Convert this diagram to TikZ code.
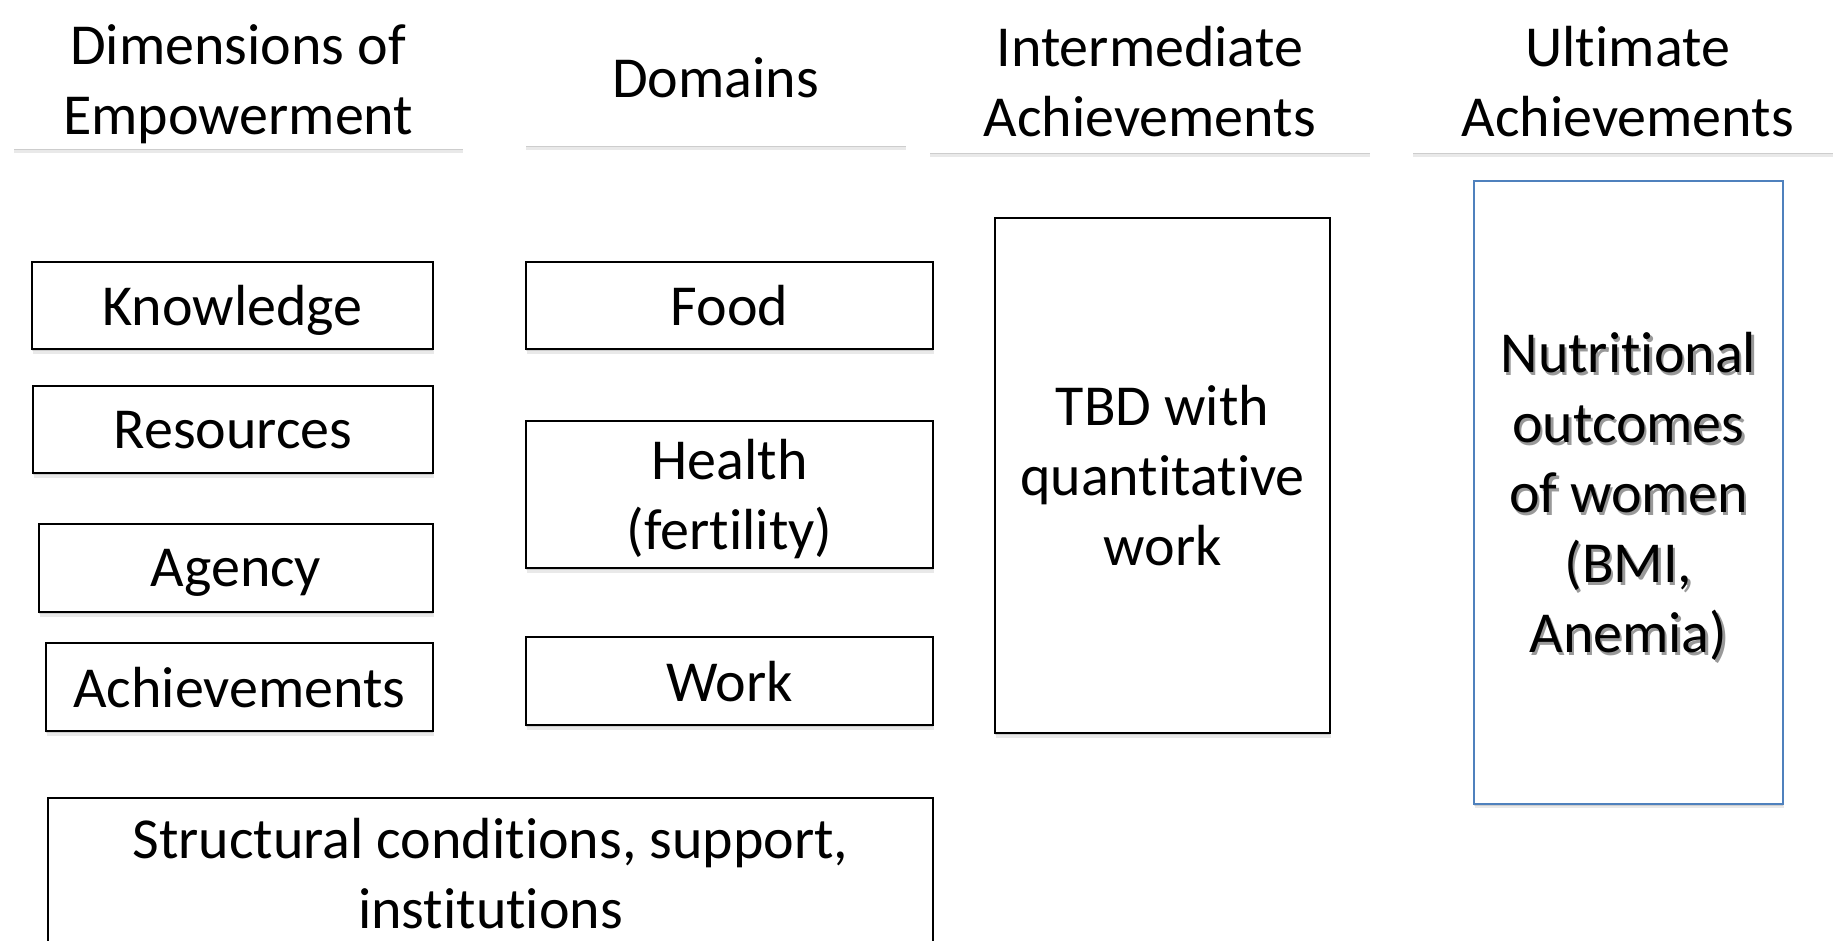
\documentclass[tikz,border=0pt]{standalone}
\usepackage{fontspec}
\setmainfont{Carlito}[Ligatures=NoCommon]
\usepackage{xcolor}
\definecolor{outcomeBlue}{RGB}{79,129,189}
\usetikzlibrary{positioning,shadows}

\newcommand{\boxfont}{\fontsize{16.5pt}{19.9pt}\selectfont}
% grey copy slightly offset behind the text
\newcommand{\shadowed}[1]{\leavevmode\rlap{\hspace{0.7pt}\raisebox{-0.8pt}{\textcolor{black!40}{#1}}}#1}

\begin{document}
\begin{tikzpicture}[
  soft/.style={drop shadow={shadow xshift=0pt, shadow yshift=-0.5pt, opacity=0.18, fill=black!70},
               drop shadow={shadow xshift=0.2pt, shadow yshift=-1.3pt, opacity=0.12, fill=black!70}},
  head/.style={soft, fill=white, inner sep=0pt, align=center, font=\boxfont, text depth=0pt},
  box/.style={soft, draw, line width=0.6pt, fill=white, inner sep=0pt, align=center,
              font=\boxfont, text depth=0pt},
  goal/.style={box, draw=outcomeBlue, line width=0.5pt}
]
  \useasboundingbox (0,0) rectangle (18.33,-9.40);

  % column headings
  \node[head, minimum width=4.49cm, minimum height=1.39cm, anchor=north west] (hd) at (0.13,-0.09) {Dimensions of\\Empowerment};
  \node[head, minimum width=3.80cm, minimum height=1.36cm, anchor=north west] (hm) at (5.25,-0.09) {Domains};
  \node[head, minimum width=4.40cm, minimum height=1.43cm, anchor=north west] (hi) at (9.29,-0.09) {Intermediate\\Achievements};
  \node[head, minimum width=4.30cm, minimum height=1.43cm, anchor=north west] (hu) at (14.12,-0.09) {Ultimate\\Achievements};

  % dimensions
  \node[box, minimum width=4.01cm, minimum height=0.87cm, anchor=north east] (k) at (4.34,-2.61) {Knowledge};
  \node[box, minimum width=4.00cm, minimum height=0.87cm, below=0.35cm of k.south east, anchor=north east] (r) {Resources};
  \node[box, minimum width=3.94cm, minimum height=0.88cm, below=0.49cm of r.south east, anchor=north east] (a) {Agency};
  \node[box, minimum width=3.87cm, minimum height=0.88cm, below=0.29cm of a.south east, anchor=north east] (ach) {Achievements};

  % domains
  \node[box, minimum width=4.07cm, minimum height=0.87cm, anchor=north west] (f) at (5.25,-2.61) {Food};
  \node[box, minimum width=4.07cm, minimum height=1.47cm, below=0.70cm of f] (h) {Health\\(fertility)};
  \node[box, minimum width=4.07cm, minimum height=0.88cm, below=0.67cm of h] (w) {Work};

  \node[box, minimum width=8.85cm, minimum height=1.50cm, anchor=north west] (s) at (0.47,-7.97) {Structural conditions, support,\\institutions};

  % achievements
  \node[box, minimum width=3.35cm, minimum height=5.15cm, anchor=north west] (t) at (9.94,-2.17) {TBD with\\quantitative\\work};
  \node[goal, minimum width=3.09cm, minimum height=6.23cm, anchor=north west] (n) at (14.73,-1.80)
    {\shadowed{Nutritional}\\\shadowed{outcomes}\\\shadowed{of women}\\\shadowed{(BMI,}\\\shadowed{Anemia)}};
\end{tikzpicture}
\end{document}
